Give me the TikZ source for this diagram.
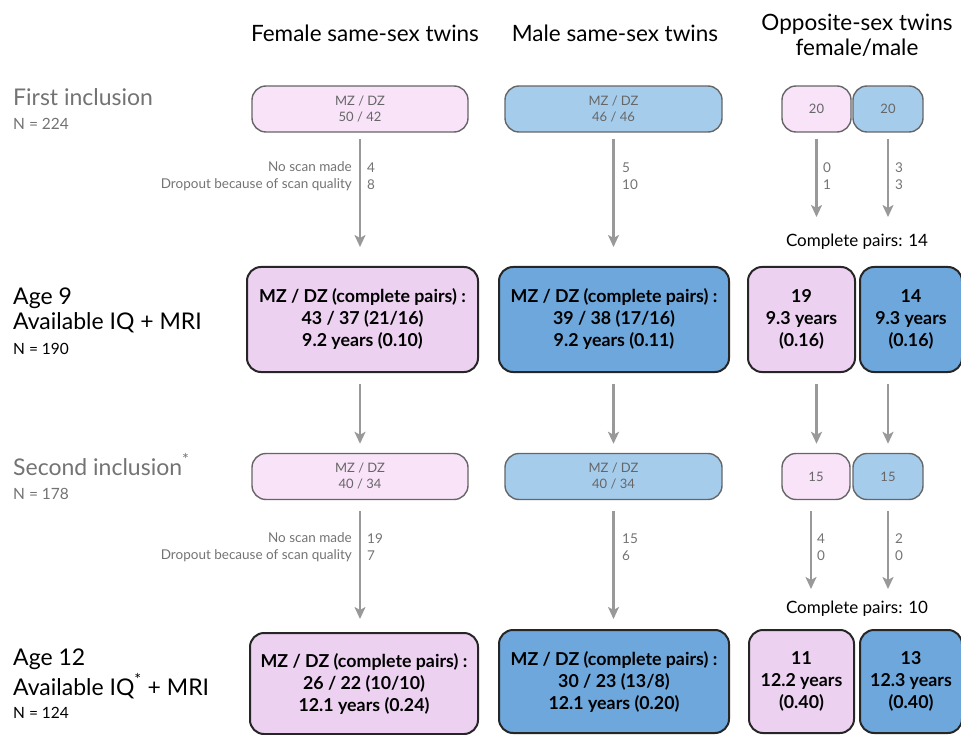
\documentclass[tikz,border=0pt]{standalone}
\usepackage{fontspec}
\setmainfont{Lato}
\usetikzlibrary{arrows.meta}
\definecolor{pinklight}{HTML}{F8E3F8}
\definecolor{pinkmid}{HTML}{EDD1F1}
\definecolor{bluelight}{HTML}{A6CCEC}
\definecolor{bluemid}{HTML}{6DA7DB}
\begin{document}
\begin{tikzpicture}[x=1pt, y=-1pt,
  every node/.style = {inner sep=0pt, align=center},
  head/.style = {font=\fontsize{22.5}{25}\selectfont},
  rowbig/.style = {anchor=base west, font=\fontsize{23}{26}\selectfont},
  rowsmall/.style = {anchor=base west, font=\fontsize{15.5}{18}\selectfont},
  inbox/.style = {shape=rectangle, rounded corners=14pt, draw=black!60,
    line width=1.4pt, text=black!60, minimum height=46pt,
    font=\fontsize{13}{16}\selectfont},
  outbox/.style = {shape=rectangle, rounded corners=14pt, draw=black!85,
    line width=2pt, font=\bfseries\fontsize{17.8}{22}\selectfont},
  flow/.style = {draw=black!40, line width=2.5pt,
    -{Stealth[length=12pt, width=11pt, inset=3pt]}},
  note/.style = {text=black!55, font=\fontsize{13.5}{17}\selectfont}]
  \useasboundingbox (0,0) rectangle (961,735);

  % column heads
  \node[head] (hF) at (365,33) {Female same-sex twins};
  \node[head] (hM) at (615,33) {Male same-sex twins};
  \node[head] (hO) at (857,35) {Opposite-sex twins\\female/male};

  % row labels
  \node[rowbig, text=black!55] (l1) at (13,106) {First inclusion};
  \node[rowsmall, text=black!55] (n1) at (13,130) {N = 224};
  \node[rowbig] (l2a) at (13,305) {Age 9};
  \node[rowbig] (l2b) at (13,330) {Available IQ + MRI};
  \node[rowsmall] (n2) at (13,354) {N = 190};
  \node[rowbig, text=black!55] (l3) at (13,475) {Second inclusion\textsuperscript{*}};
  \node[rowsmall, text=black!55] (n3) at (13,499) {N = 178};
  \node[rowbig] (l4a) at (13,665) {Age 12};
  \node[rowbig] (l4b) at (13,695) {Available IQ\textsuperscript{*} + MRI};
  \node[rowsmall] (n4) at (13,718) {N = 124};

  % first inclusion
  \node[inbox, fill=pinklight, minimum width=216pt] (F1) at (360,109) {MZ / DZ\\50 / 42};
  \node[inbox, fill=bluelight, minimum width=217pt] (M1) at (613.5,109) {MZ / DZ\\46 / 46};
  \node[inbox, fill=pinklight, minimum width=69pt] (Of1) at (816.5,109) {20};
  \node[inbox, fill=bluelight, minimum width=70pt] (Ob1) at (888,109) {20};

  % age 9
  \node[outbox, fill=pinkmid, minimum width=231pt, minimum height=105pt] (F2) at (362.5,319.5)
    {MZ / DZ (complete pairs) :\\43 / 37 (21/16)\\9.2 years (0.10)};
  \node[outbox, fill=bluemid, minimum width=230pt, minimum height=105pt] (M2) at (614,319.5)
    {MZ / DZ (complete pairs) :\\39 / 38 (17/16)\\9.2 years (0.11)};
  \node[outbox, fill=pinkmid, minimum width=107pt, minimum height=105pt] (Of2) at (801.5,319.5)
    {19\\9.3 years\\(0.16)};
  \node[outbox, fill=bluemid, minimum width=102pt, minimum height=105pt] (Ob2) at (911,319.5)
    {14\\9.3 years\\(0.16)};
  \node[head, font=\fontsize{17}{20}\selectfont] (cp1) at (857,242) {Complete pairs: 14};

  % second inclusion
  \node[inbox, fill=pinklight, minimum width=216pt] (F3) at (360,476.5) {MZ / DZ\\40 / 34};
  \node[inbox, fill=bluelight, minimum width=217pt] (M3) at (613.5,476.5) {MZ / DZ\\40 / 34};
  \node[inbox, fill=pinklight, minimum width=68pt] (Of3) at (816,476.5) {15};
  \node[inbox, fill=bluelight, minimum width=70pt] (Ob3) at (888,476.5) {15};

  % age 12
  \node[outbox, fill=pinkmid, minimum width=228pt, minimum height=101pt] (F4) at (364,683.5)
    {MZ / DZ (complete pairs) :\\26 / 22 (10/10)\\12.1 years (0.24)};
  \node[outbox, fill=bluemid, minimum width=230pt, minimum height=103pt] (M4) at (614,681.5)
    {MZ / DZ (complete pairs) :\\30 / 23 (13/8)\\12.1 years (0.20)};
  \node[outbox, fill=pinkmid, minimum width=105pt, minimum height=103pt] (Of4) at (801.5,681.5)
    {11\\12.2 years\\(0.40)};
  \node[outbox, fill=bluemid, minimum width=102pt, minimum height=103pt] (Ob4) at (911,681.5)
    {13\\12.3 years\\(0.40)};
  \node[head, font=\fontsize{17}{20}\selectfont] (cp2) at (857,609) {Complete pairs: 10};

  % arrows
  \draw[flow, shorten <=6pt, shorten >=19pt] (F1.south) -- (F1.south |- F2.north);
  \draw[flow, shorten <=6pt, shorten >=19pt] (M1.south) -- (M1.south |- M2.north);
  \draw[flow, shorten <=6pt, shorten >=49pt] (Of1.south) -- (Of1.south |- Of2.north);
  \draw[flow, shorten <=6pt, shorten >=49pt] (Ob1.south) -- (Ob1.south |- Ob2.north);
  \draw[flow, shorten <=11pt, shorten >=9pt] (F1.south |- F2.south) -- (F1.south |- F3.north);
  \draw[flow, shorten <=11pt, shorten >=9pt] (M1.south |- M2.south) -- (M1.south |- M3.north);
  \draw[flow, shorten <=11pt, shorten >=9pt] (Of1.south |- Of2.south) -- (Of1.south |- Of3.north);
  \draw[flow, shorten <=11pt, shorten >=9pt] (Ob1.south |- Ob2.south) -- (Ob1.south |- Ob3.north);
  \draw[flow, shorten <=11pt, shorten >=13pt] (F3.south) -- (F3.south |- F4.north);
  \draw[flow, shorten <=11pt, shorten >=10pt] (M3.south) -- (M3.south |- M4.north);
  \draw[flow, shorten <=11pt, shorten >=40pt] ([xshift=-5pt]Of3.south) -- ([xshift=-5pt]Of3.south |- Of4.north);
  \draw[flow, shorten <=11pt, shorten >=40pt] (Ob3.south) -- (Ob3.south |- Ob4.north);

  % dropout counts
  \node[note, anchor=east, align=right] (dF1) at (352,176) {No scan made\\Dropout because of scan quality};
  \node[note, anchor=west, align=left] (kF1) at (367,176) {4\\8};
  \node[note, anchor=west, align=left] (kM1) at (622,176) {5\\10};
  \node[note, anchor=west, align=left] (kOf1) at (823,176) {0\\1};
  \node[note, anchor=west, align=left] (kOb1) at (895,176) {3\\3};
  \node[note, anchor=east, align=right] (dF3) at (352,547) {No scan made\\Dropout because of scan quality};
  \node[note, anchor=west, align=left] (kF3) at (367,547) {19\\7};
  \node[note, anchor=west, align=left] (kM3) at (622,547) {15\\6};
  \node[note, anchor=west, align=left] (kOf3) at (817,547) {4\\0};
  \node[note, anchor=west, align=left] (kOb3) at (895,547) {2\\0};
\end{tikzpicture}
\end{document}
